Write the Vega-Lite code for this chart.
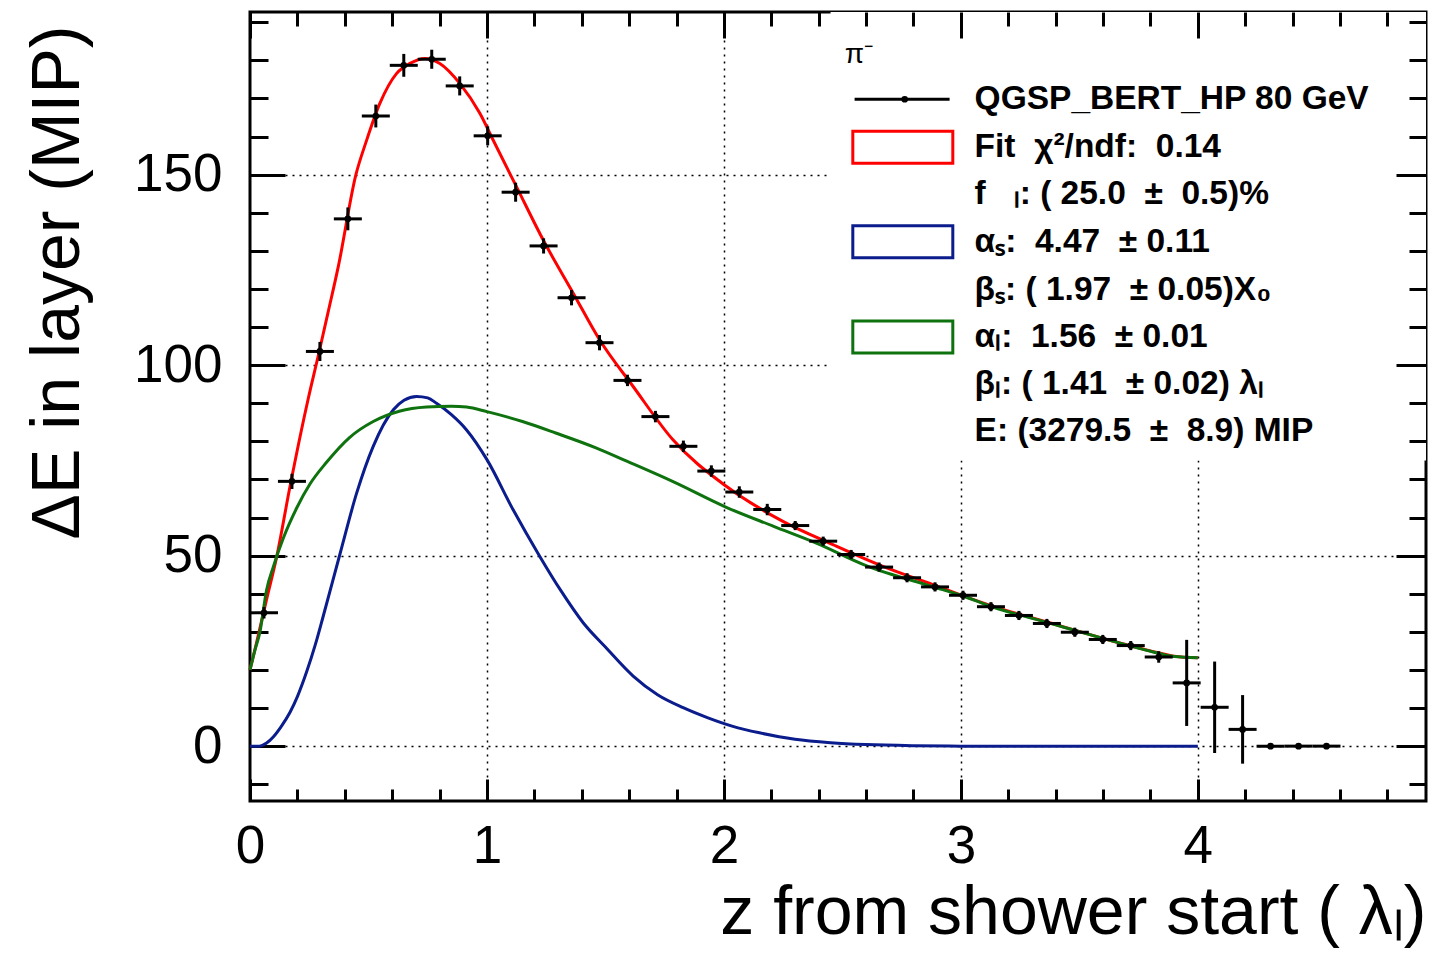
{
  "$schema": "https://vega.github.io/schema/vega-lite/v6.json",
  "description": "Longitudinal shower profile of an 80 GeV pi- (QGSP_BERT_HP) with a two-component fit.",
  "width": 1176,
  "height": 789,
  "autosize": {"type": "none"},
  "padding": {"left": 250, "top": 12, "right": 18, "bottom": 154},
  "background": "white",
  "datasets": {
    "layers": [
      {"z": 0.059, "e": 35.0, "err": 1.5},
      {"z": 0.177, "e": 69.5, "err": 2},
      {"z": 0.295, "e": 103.6, "err": 2.5},
      {"z": 0.413, "e": 138.4, "err": 3},
      {"z": 0.531, "e": 165.4, "err": 3},
      {"z": 0.649, "e": 178.7, "err": 3},
      {"z": 0.767, "e": 180.3, "err": 2.5},
      {"z": 0.885, "e": 173.3, "err": 2.5},
      {"z": 1.003, "e": 160.2, "err": 2.5},
      {"z": 1.121, "e": 145.4, "err": 2.5},
      {"z": 1.239, "e": 131.3, "err": 2},
      {"z": 1.357, "e": 117.7, "err": 2},
      {"z": 1.475, "e": 105.9, "err": 2},
      {"z": 1.593, "e": 96.0, "err": 1.5},
      {"z": 1.711, "e": 86.5, "err": 1.5},
      {"z": 1.829, "e": 78.7, "err": 1.5},
      {"z": 1.947, "e": 72.2, "err": 1.5},
      {"z": 2.065, "e": 66.7, "err": 1.5},
      {"z": 2.183, "e": 62.1, "err": 1.5},
      {"z": 2.301, "e": 57.9, "err": 1.2},
      {"z": 2.419, "e": 53.8, "err": 1.2},
      {"z": 2.537, "e": 50.3, "err": 1.2},
      {"z": 2.655, "e": 47.0, "err": 1.2},
      {"z": 2.773, "e": 44.2, "err": 1.2},
      {"z": 2.891, "e": 41.8, "err": 1.2},
      {"z": 3.009, "e": 39.6, "err": 1.2},
      {"z": 3.127, "e": 36.6, "err": 1.2},
      {"z": 3.245, "e": 34.3, "err": 1.2},
      {"z": 3.363, "e": 32.2, "err": 1.2},
      {"z": 3.481, "e": 29.9, "err": 1.2},
      {"z": 3.599, "e": 28.0, "err": 1.2},
      {"z": 3.717, "e": 26.4, "err": 1.2},
      {"z": 3.835, "e": 23.4, "err": 1.5},
      {"z": 3.953, "e": 16.6, "err": 11.3},
      {"z": 4.071, "e": 10.2, "err": 12},
      {"z": 4.189, "e": 4.4, "err": 9},
      {"z": 4.307, "e": 0, "err": 0},
      {"z": 4.425, "e": 0, "err": 0},
      {"z": 4.543, "e": 0, "err": 0}
    ],
    "fits": [
      {"comp": "sum", "z": 0.0, "e": 20},
      {"comp": "sum", "z": 0.021, "e": 25.4},
      {"comp": "sum", "z": 0.07, "e": 38.5},
      {"comp": "sum", "z": 0.113, "e": 49.8},
      {"comp": "sum", "z": 0.169, "e": 68.2},
      {"comp": "sum", "z": 0.245, "e": 91},
      {"comp": "sum", "z": 0.29, "e": 103},
      {"comp": "sum", "z": 0.33, "e": 114},
      {"comp": "sum", "z": 0.373, "e": 126},
      {"comp": "sum", "z": 0.447, "e": 150},
      {"comp": "sum", "z": 0.492, "e": 159},
      {"comp": "sum", "z": 0.548, "e": 168.7},
      {"comp": "sum", "z": 0.619, "e": 176.6},
      {"comp": "sum", "z": 0.675, "e": 179.2},
      {"comp": "sum", "z": 0.738, "e": 180.5},
      {"comp": "sum", "z": 0.801, "e": 179.2},
      {"comp": "sum", "z": 0.886, "e": 173.9},
      {"comp": "sum", "z": 0.97, "e": 166.1},
      {"comp": "sum", "z": 1.026, "e": 159.1},
      {"comp": "sum", "z": 1.125, "e": 146.8},
      {"comp": "sum", "z": 1.237, "e": 132.9},
      {"comp": "sum", "z": 1.364, "e": 118.9},
      {"comp": "sum", "z": 1.476, "e": 106.6},
      {"comp": "sum", "z": 1.617, "e": 94.4},
      {"comp": "sum", "z": 1.785, "e": 80.4},
      {"comp": "sum", "z": 2.01, "e": 68.2},
      {"comp": "sum", "z": 2.249, "e": 59.0},
      {"comp": "sum", "z": 2.46, "e": 52.9},
      {"comp": "sum", "z": 2.671, "e": 47.2},
      {"comp": "sum", "z": 2.882, "e": 42.4},
      {"comp": "sum", "z": 3.135, "e": 36.7},
      {"comp": "sum", "z": 3.374, "e": 32.4},
      {"comp": "sum", "z": 3.6, "e": 28.3},
      {"comp": "sum", "z": 3.8, "e": 25.0},
      {"comp": "sum", "z": 3.9, "e": 23.6},
      {"comp": "sum", "z": 4.0, "e": 23.2},
      {"comp": "short", "z": 0.0, "e": 0},
      {"comp": "short", "z": 0.04, "e": 0},
      {"comp": "short", "z": 0.07, "e": 0.8},
      {"comp": "short", "z": 0.098, "e": 2.4},
      {"comp": "short", "z": 0.13, "e": 5.0},
      {"comp": "short", "z": 0.169, "e": 8.9},
      {"comp": "short", "z": 0.2, "e": 13.0},
      {"comp": "short", "z": 0.239, "e": 19.5},
      {"comp": "short", "z": 0.275, "e": 26.5},
      {"comp": "short", "z": 0.309, "e": 34.1},
      {"comp": "short", "z": 0.38, "e": 50.5},
      {"comp": "short", "z": 0.45, "e": 66.4},
      {"comp": "short", "z": 0.52, "e": 78.7},
      {"comp": "short", "z": 0.605, "e": 88.3},
      {"comp": "short", "z": 0.65, "e": 90.8},
      {"comp": "short", "z": 0.703, "e": 91.8},
      {"comp": "short", "z": 0.75, "e": 91.4},
      {"comp": "short", "z": 0.787, "e": 90.0},
      {"comp": "short", "z": 0.85, "e": 87.0},
      {"comp": "short", "z": 0.914, "e": 83.0},
      {"comp": "short", "z": 1.0, "e": 75.2},
      {"comp": "short", "z": 1.11, "e": 62.1},
      {"comp": "short", "z": 1.223, "e": 49.8},
      {"comp": "short", "z": 1.31, "e": 41.0},
      {"comp": "short", "z": 1.406, "e": 32.4},
      {"comp": "short", "z": 1.5, "e": 26.0},
      {"comp": "short", "z": 1.617, "e": 18.4},
      {"comp": "short", "z": 1.72, "e": 13.5},
      {"comp": "short", "z": 1.828, "e": 10.1},
      {"comp": "short", "z": 1.93, "e": 7.5},
      {"comp": "short", "z": 2.038, "e": 5.2},
      {"comp": "short", "z": 2.15, "e": 3.5},
      {"comp": "short", "z": 2.3, "e": 1.8},
      {"comp": "short", "z": 2.45, "e": 0.9},
      {"comp": "short", "z": 2.6, "e": 0.4},
      {"comp": "short", "z": 2.8, "e": 0.1},
      {"comp": "short", "z": 3.0, "e": 0},
      {"comp": "short", "z": 4.0, "e": 0},
      {"comp": "long", "z": 0.0, "e": 20},
      {"comp": "long", "z": 0.02, "e": 25},
      {"comp": "long", "z": 0.042, "e": 30},
      {"comp": "long", "z": 0.07, "e": 41},
      {"comp": "long", "z": 0.098, "e": 47},
      {"comp": "long", "z": 0.14, "e": 54.5},
      {"comp": "long", "z": 0.197, "e": 62.5},
      {"comp": "long", "z": 0.253, "e": 68.8},
      {"comp": "long", "z": 0.323, "e": 74.5},
      {"comp": "long", "z": 0.42, "e": 81.0},
      {"comp": "long", "z": 0.52, "e": 85.2},
      {"comp": "long", "z": 0.63, "e": 87.9},
      {"comp": "long", "z": 0.745, "e": 89.0},
      {"comp": "long", "z": 0.85, "e": 89.2},
      {"comp": "long", "z": 0.914, "e": 89.0},
      {"comp": "long", "z": 1.0, "e": 87.8},
      {"comp": "long", "z": 1.15, "e": 85.2},
      {"comp": "long", "z": 1.29, "e": 82.2},
      {"comp": "long", "z": 1.46, "e": 78.3},
      {"comp": "long", "z": 1.59, "e": 74.8},
      {"comp": "long", "z": 1.79, "e": 69.3},
      {"comp": "long", "z": 2.01, "e": 62.7},
      {"comp": "long", "z": 2.21, "e": 57.7},
      {"comp": "long", "z": 2.39, "e": 53.3},
      {"comp": "long", "z": 2.6, "e": 47.4},
      {"comp": "long", "z": 2.88, "e": 41.9},
      {"comp": "long", "z": 3.0, "e": 39.6},
      {"comp": "long", "z": 3.135, "e": 36.5},
      {"comp": "long", "z": 3.374, "e": 32.3},
      {"comp": "long", "z": 3.6, "e": 28.3},
      {"comp": "long", "z": 3.8, "e": 24.9},
      {"comp": "long", "z": 3.9, "e": 23.5},
      {"comp": "long", "z": 4.0, "e": 23.2}
    ],
    "legend": [
      {"label": "QGSP_BERT_HP 80 GeV", "y": 169.8, "sym": "data"},
      {"label": "Fit\u00a0\u00a0\u03c7\u00b2/ndf:\u00a0\u00a00.14", "y": 157.2, "sym": "sum"},
      {"label": "f\u00a0\u00a0\u00a0\u2097: ( 25.0\u00a0\u00a0\u00b1\u00a0\u00a00.5)%", "y": 144.9, "sym": "none"},
      {"label": "\u03b1\u209b:\u00a0\u00a04.47\u00a0\u00a0\u00b1 0.11", "y": 132.4, "sym": "short"},
      {"label": "\u03b2\u209b: ( 1.97\u00a0\u00a0\u00b1 0.05)X\u2080", "y": 119.8, "sym": "none"},
      {"label": "\u03b1\u2097:\u00a0\u00a01.56\u00a0\u00a0\u00b1 0.01", "y": 107.4, "sym": "long"},
      {"label": "\u03b2\u2097: ( 1.41\u00a0\u00a0\u00b1 0.02) \u03bb\u2097", "y": 95.0, "sym": "none"},
      {"label": "E: (3279.5\u00a0\u00a0\u00b1\u00a0\u00a08.9) MIP", "y": 82.7, "sym": "none"}
    ]
  },
  "layer": [
    {
      "data": {"name": "fits"},
      "mark": {"type": "line", "strokeWidth": 3, "interpolate": "monotone"},
      "encoding": {
        "x": {
          "field": "z",
          "type": "quantitative",
          "scale": {"domain": [0, 4.963], "nice": false, "zero": false},
          "axis": {
            "orient": "bottom",
            "values": [0, 0.2, 0.4, 0.6, 0.8, 1, 1.2, 1.4, 1.6, 1.8, 2, 2.2, 2.4, 2.6, 2.8, 3, 3.2, 3.4, 3.6, 3.8, 4, 4.2, 4.4, 4.6, 4.8],
            "labelExpr": "datum.value % 1 === 0 ? '' + datum.value : ''",
            "labelFontSize": 53,
            "labelColor": "black",
            "labelPadding": 41,
            "labelFlush": false,
            "labelOverlap": false,
            "tickSize": {"condition": {"test": "datum.value % 1 === 0", "value": -22}, "value": -12},
            "tickWidth": 3,
            "tickColor": "black",
            "domain": false,
            "grid": true,
            "gridDash": [2, 5],
            "gridColor": "black",
            "gridWidth": 1.5,
            "gridOpacity": {"condition": {"test": "datum.value % 1 === 0 && datum.value > 0", "value": 1}, "value": 0},
            "title": "z from shower start ( \u03bb\u2097)",
            "titleFontSize": 68,
            "titleFontWeight": "normal",
            "titleColor": "black",
            "titleAlign": "right",
            "titleBaseline": "alphabetic",
            "titleX": 1176,
            "titleY": 132,
            "zindex": 0
          }
        },
        "y": {
          "field": "e",
          "type": "quantitative",
          "scale": {"domain": [-14.4, 192.7], "nice": false, "zero": false},
          "axis": {
            "orient": "left",
            "values": [-10, 0, 10, 20, 30, 40, 50, 60, 70, 80, 90, 100, 110, 120, 130, 140, 150, 160, 170, 180, 190],
            "labelExpr": "datum.value % 50 === 0 ? '' + datum.value : ''",
            "labelFontSize": 53,
            "labelColor": "black",
            "labelPadding": 63,
            "labelFlush": false,
            "labelOverlap": false,
            "tickSize": {"condition": {"test": "datum.value % 50 === 0", "value": -35}, "value": -18},
            "tickWidth": 3,
            "tickColor": "black",
            "domain": false,
            "grid": true,
            "gridDash": [2, 5],
            "gridColor": "black",
            "gridWidth": 1.5,
            "gridOpacity": {"condition": {"test": "datum.value % 50 === 0", "value": 1}, "value": 0},
            "title": "\u0394E in layer (MIP)",
            "titleFontSize": 68,
            "titleFontWeight": "normal",
            "titleColor": "black",
            "titleAlign": "right",
            "titleBaseline": "alphabetic",
            "titleAngle": 270,
            "titleX": -172,
            "titleY": 13,
            "zindex": 0
          }
        },
        "color": {
          "field": "comp",
          "type": "nominal",
          "scale": {"domain": ["sum", "short", "long", "data"], "range": ["#ff0000", "#0b1c8c", "#0e720e", "#000000"]},
          "legend": null
        }
      }
    },
    {
      "data": {"name": "layers"},
      "mark": {"type": "point", "opacity": 0},
      "encoding": {
        "x": {
          "field": "z",
          "type": "quantitative",
          "scale": {"domain": [0, 4.963], "nice": false, "zero": false},
          "axis": {
            "orient": "top",
            "values": [0, 0.2, 0.4, 0.6, 0.8, 1, 1.2, 1.4, 1.6, 1.8, 2, 2.2, 2.4, 2.6, 2.8, 3, 3.2, 3.4, 3.6, 3.8, 4, 4.2, 4.4, 4.6, 4.8],
            "labels": false,
            "title": null,
            "grid": false,
            "domain": false,
            "tickSize": {"condition": {"test": "datum.value % 1 === 0", "value": -26}, "value": -14},
            "tickWidth": 3,
            "tickColor": "black",
            "zindex": 1
          }
        },
        "y": {
          "field": "e",
          "type": "quantitative",
          "scale": {"domain": [-14.4, 192.7], "nice": false, "zero": false},
          "axis": {
            "orient": "right",
            "values": [-10, 0, 10, 20, 30, 40, 50, 60, 70, 80, 90, 100, 110, 120, 130, 140, 150, 160, 170, 180, 190],
            "labels": false,
            "title": null,
            "grid": false,
            "domain": false,
            "tickSize": {"condition": {"test": "datum.value % 50 === 0", "value": -30}, "value": -17},
            "tickWidth": 3,
            "tickColor": "black",
            "zindex": 1
          }
        }
      }
    },
    {
      "data": {"values": [{}]},
      "mark": {"type": "rect", "fill": "white"},
      "encoding": {
        "x": {"datum": 2.45, "type": "quantitative", "scale": {"domain": [0, 4.963], "nice": false, "zero": false}, "axis": null},
        "x2": {"datum": 4.963},
        "y": {"datum": 75, "type": "quantitative", "scale": {"domain": [-14.4, 192.7], "nice": false, "zero": false}, "axis": null},
        "y2": {"datum": 192.7}
      }
    },
    {
      "data": {"name": "layers"},
      "mark": {"type": "errorbar", "color": "black", "thickness": 3},
      "encoding": {
        "x": {"field": "z", "type": "quantitative", "scale": {"domain": [0, 4.963], "nice": false, "zero": false}, "axis": null},
        "y": {"field": "e", "type": "quantitative", "scale": {"domain": [-14.4, 192.7], "nice": false, "zero": false}, "axis": null},
        "yError": {"field": "err"}
      }
    },
    {
      "data": {"name": "layers"},
      "mark": {"type": "tick", "orient": "horizontal", "size": 28, "thickness": 3, "color": "black", "opacity": 1},
      "encoding": {
        "x": {"field": "z", "type": "quantitative", "scale": {"domain": [0, 4.963], "nice": false, "zero": false}, "axis": null},
        "y": {"field": "e", "type": "quantitative", "scale": {"domain": [-14.4, 192.7], "nice": false, "zero": false}, "axis": null}
      }
    },
    {
      "data": {"name": "layers"},
      "mark": {"type": "point", "shape": "circle", "filled": true, "color": "black", "size": 45, "opacity": 1},
      "encoding": {
        "x": {"field": "z", "type": "quantitative", "scale": {"domain": [0, 4.963], "nice": false, "zero": false}, "axis": null},
        "y": {"field": "e", "type": "quantitative", "scale": {"domain": [-14.4, 192.7], "nice": false, "zero": false}, "axis": null}
      }
    },
    {
      "data": {"values": [{}]},
      "mark": {"type": "text", "align": "left", "baseline": "middle", "fontSize": 28, "color": "black"},
      "encoding": {
        "x": {"datum": 2.51, "type": "quantitative", "scale": {"domain": [0, 4.963], "nice": false, "zero": false}, "axis": null},
        "y": {"datum": 181.5, "type": "quantitative", "scale": {"domain": [-14.4, 192.7], "nice": false, "zero": false}, "axis": null},
        "text": {"value": "\u03c0\u207b"}
      }
    },
    {
      "data": {"name": "legend"},
      "transform": [{"filter": "datum.sym === 'data'"}],
      "mark": {"type": "point", "shape": "M-1,0L1,0", "size": 9025, "filled": false, "strokeWidth": 3, "color": "black", "opacity": 1},
      "encoding": {
        "x": {"datum": 2.752, "type": "quantitative", "scale": {"domain": [0, 4.963], "nice": false, "zero": false}, "axis": null},
        "y": {"field": "y", "type": "quantitative", "scale": {"domain": [-14.4, 192.7], "nice": false, "zero": false}, "axis": null}
      }
    },
    {
      "data": {"name": "legend"},
      "transform": [{"filter": "datum.sym === 'data'"}],
      "mark": {"type": "point", "shape": "circle", "filled": true, "size": 45, "color": "black", "opacity": 1},
      "encoding": {
        "x": {"datum": 2.763, "type": "quantitative", "scale": {"domain": [0, 4.963], "nice": false, "zero": false}, "axis": null},
        "y": {"field": "y", "type": "quantitative", "scale": {"domain": [-14.4, 192.7], "nice": false, "zero": false}, "axis": null}
      }
    },
    {
      "data": {"name": "legend"},
      "transform": [{"filter": "datum.sym === 'sum' || datum.sym === 'short' || datum.sym === 'long'"}],
      "mark": {"type": "point", "shape": "M-1,-0.32H1V0.32H-1Z", "size": 10000, "filled": false, "strokeWidth": 3, "opacity": 1},
      "encoding": {
        "x": {"datum": 2.755, "type": "quantitative", "scale": {"domain": [0, 4.963], "nice": false, "zero": false}, "axis": null},
        "y": {"field": "y", "type": "quantitative", "scale": {"domain": [-14.4, 192.7], "nice": false, "zero": false}, "axis": null},
        "color": {"field": "sym", "type": "nominal", "legend": null}
      }
    },
    {
      "data": {"name": "legend"},
      "mark": {"type": "text", "align": "left", "baseline": "middle", "fontSize": 33.5, "fontWeight": "bold", "color": "black"},
      "encoding": {
        "x": {"datum": 3.058, "type": "quantitative", "scale": {"domain": [0, 4.963], "nice": false, "zero": false}, "axis": null},
        "y": {"field": "y", "type": "quantitative", "scale": {"domain": [-14.4, 192.7], "nice": false, "zero": false}, "axis": null},
        "text": {"field": "label"}
      }
    }
  ],
  "resolve": {"axis": {"x": "independent", "y": "independent"}},
  "config": {
    "font": "Liberation Sans",
    "view": {"stroke": "black", "strokeWidth": 3}
  }
}
